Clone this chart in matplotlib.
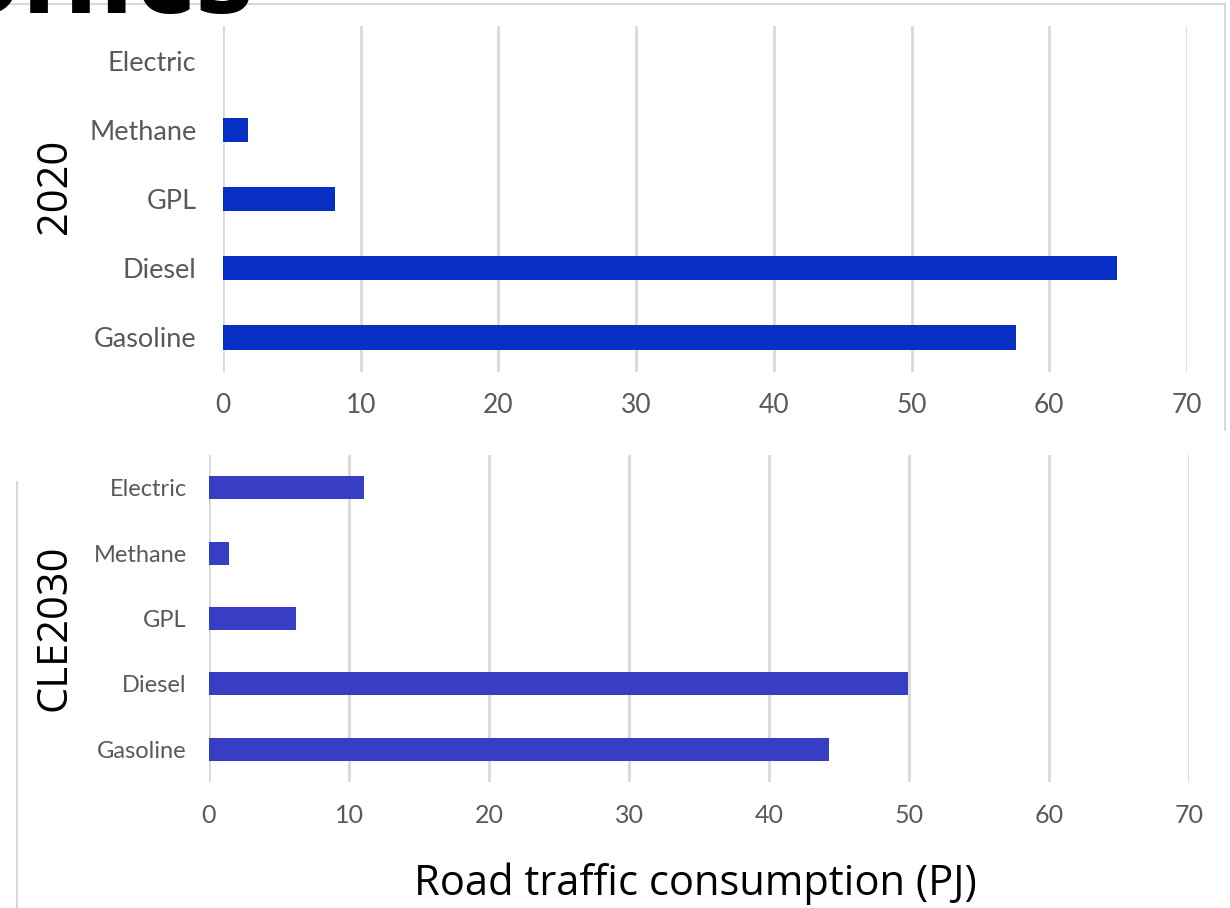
import matplotlib
matplotlib.use('Agg')
import matplotlib.pyplot as plt
from matplotlib.lines import Line2D

# data
fuels = ['Gasoline', 'Diesel', 'GPL', 'Methane', 'Electric']
pj_2020 = [57.6, 64.9, 8.1, 1.8, 0.0]
pj_cle2030 = [44.3, 49.9, 6.2, 1.4, 11.1]
x_ticks = [0, 10, 20, 30, 40, 50, 60, 70]

W, H = 1230, 908
fig = plt.figure(figsize=(W / 100, H / 100), dpi=100)

tick_font = 'Lato'
grey_txt = '#595959'
grid_col = '#d9d9d9'


def px_axes(left, top, right, bottom):
    return fig.add_axes([left / W, 1 - bottom / H, (right - left) / W, (bottom - top) / H])


def draw_panel(ax, values, color, yfs, xfs, ypad, xpad):
    ax.barh(range(len(fuels)), values, height=0.35, color=color, zorder=3)
    ax.set_xlim(0, 70)
    ax.set_ylim(-0.5, len(fuels) - 0.5)
    ax.set_xticks(x_ticks)
    ax.set_yticks(range(len(fuels)))
    ax.set_yticklabels(fuels)
    ax.grid(axis='x', color=grid_col, linewidth=2, zorder=0)
    ax.grid(axis='y', visible=False)
    for s in ax.spines.values():
        s.set_visible(False)
    ax.tick_params(axis='y', length=0, pad=ypad, labelsize=yfs, labelcolor=grey_txt)
    ax.tick_params(axis='x', length=0, pad=xpad, labelsize=xfs, labelcolor=grey_txt)
    for lab in ax.get_xticklabels() + ax.get_yticklabels():
        lab.set_fontfamily(tick_font)


ax1 = px_axes(223, 26, 1187, 372)
draw_panel(ax1, pj_2020, '#072fc6', 19.5, 19, 19, 15)

ax2 = px_axes(209, 455, 1189, 782)
draw_panel(ax2, pj_cle2030, '#383ec4', 17, 18, 16, 16)

# slide frame lines
fig.add_artist(Line2D([0, 1225 / W], [1 - 4 / H, 1 - 4 / H], color='#d9d9d9', lw=1.5))
fig.add_artist(Line2D([1225 / W, 1225 / W], [1 - 4 / H, 1 - 430 / H], color='#d9d9d9', lw=1.5))
fig.add_artist(Line2D([17 / W, 17 / W], [1 - 482 / H, 0], color='#d9d9d9', lw=1.5))

# slide title, mostly cut off at the top
fig.text(255 / W, 1 - 13 / H, 'onics', fontsize=85, fontweight='bold', color='black',
         ha='right', va='baseline', family='Open Sans')

fig.text(55 / W, 1 - 186 / H, '2020', rotation=90, ha='center', va='center',
         fontsize=30, family='Open Sans', color='black')
fig.text(55 / W, 1 - 628 / H, 'CLE2030', rotation=90, ha='center', va='center',
         fontsize=30, family='Open Sans', color='black')
fig.text(695 / W, 1 - 884 / H, 'Road traffic consumption (PJ)', ha='center', va='center',
         fontsize=30, family='Open Sans', color='black')

fig.savefig('out.png', dpi=100)
